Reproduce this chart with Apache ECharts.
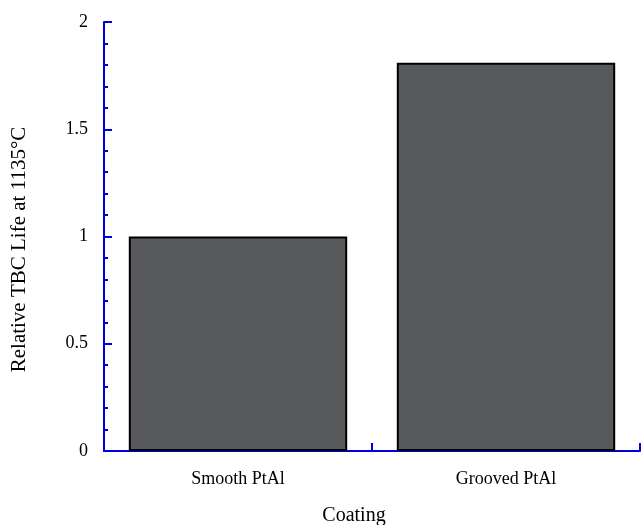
<!DOCTYPE html>
<html lang="en">
<head>
    <meta charset="UTF-8">
    <title>Relative TBC Life</title>
    <style>
        html, body { margin: 0; padding: 0; background: #fff; }
        #main { width: 641px; height: 525px; }
    </style>
</head>
<body>
    <div id="main"></div>
    <script src="https://cdn.jsdelivr.net/npm/echarts@6/dist/echarts.min.js"></script>
    <script>
    var coatings = ['Smooth PtAl', 'Grooved PtAl'];
    var relativeLife = [1.0, 1.81];
    var yTicks = [0, 0.5, 1, 1.5, 2];

    var axisBlue = '#0000dd';
    var serif = '"Liberation Serif", "DejaVu Serif", serif';

    var myChart = echarts.init(document.getElementById('main'));

    var option = {
        animation: false,
        grid: {
            left: 104,
            right: 1,
            top: 22,
            bottom: 74,
            outerBoundsMode: 'none',
            containLabel: false
        },
        xAxis: {
            type: 'category',
            data: coatings,
            name: 'Coating',
            nameLocation: 'middle',
            nameGap: 55,
            nameTextStyle: { fontFamily: serif, fontSize: 20, color: '#000', padding: [0, 36, 0, 0] },
            axisLine: { lineStyle: { color: axisBlue, width: 2 } },
            axisTick: { show: true, inside: true, length: 8, interval: 0, lineStyle: { color: axisBlue, width: 2 } },
            axisLabel: { fontFamily: serif, fontSize: 18, color: '#000', margin: 19 },
            splitLine: { show: false }
        },
        yAxis: {
            type: 'value',
            min: yTicks[0],
            max: yTicks[yTicks.length - 1],
            interval: 0.5,
            name: 'Relative TBC Life at 1135°C',
            nameLocation: 'middle',
            nameGap: 74,
            nameTextStyle: { fontFamily: serif, fontSize: 21, color: '#000', padding: [0, 26, 0, 0] },
            axisLine: { show: true, lineStyle: { color: axisBlue, width: 2 } },
            axisTick: { show: true, inside: true, length: 8, lineStyle: { color: axisBlue, width: 2 } },
            minorTick: { show: true, splitNumber: 5, length: 4, lineStyle: { color: axisBlue, width: 2 } },
            axisLabel: { fontFamily: serif, fontSize: 18, color: '#000', margin: 16 },
            splitLine: { show: false }
        },
        series: [{
            type: 'bar',
            data: relativeLife,
            barCategoryGap: '18.5%',
            itemStyle: {
                color: '#58595b',
                borderColor: '#000',
                borderWidth: 2
            }
        }]
    };

    myChart.setOption(option);
    </script>
</body>
</html>
